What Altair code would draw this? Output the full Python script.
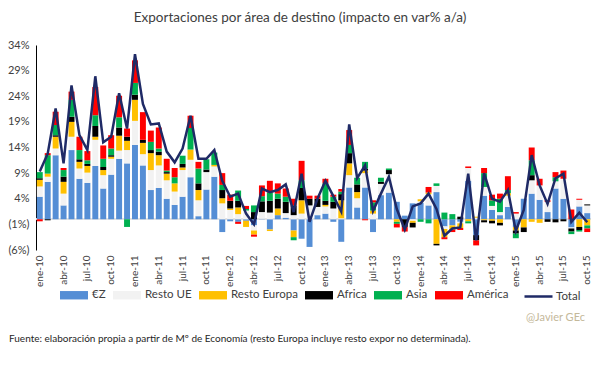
import altair as alt
import pandas as pd

months = [f"{m}-{y}" for y in ["10", "11", "12", "13", "14", "15"]
          for m in ["ene", "feb", "mar", "abr", "may", "jun", "jul", "ago", "sep", "oct", "nov", "dic"]][:70]

series = ["€Z", "Resto UE", "Resto Europa", "Africa", "Asia", "América"]
colors = ["#558ED5", "#F2F2F2", "#FFC000", "#000000", "#00B050", "#FF0000"]

ez = [4.4, 7.3, 12.5, 2.7, 13.5, 7.9, 7.1, 10.4, 6.0, 8.7, 11.8, 10.9,
      14.5, 10.5, 5.7, 6.1, 4.0, 2.8, 4.4, 8.2, 0.6, 5.8, 8.3, -2.5,
      -0.4, -0.5, -0.3, -1.2, 0.1, -2.0, 0.8, 0.3, -2.2, -3.8, -5.4, 0.8,
      1.1, -0.5, -4.4, 6.2, 2.3, 6.2, -2.5, 4.7, 5.2, 3.4, 0.7, 3.1,
      3.2, 2.7, 5.3, -1.4, -1.2, -0.5, 7.5, -3.1, 4.6, 1.8, 0.8, 2.4,
      -1.5, 4.0, 5.0, 3.8, 1.4, 6.0, 4.0, -1.6, 2.5, 1.2]
rue = [2.0, 1.0, 1.3, 2.3, 2.6, 2.0, 2.0, 5.1, 2.6, 3.1, 1.6, 2.6,
       4.7, 2.2, 3.9, 4.4, 3.6, 2.6, 5.2, 3.4, 3.1, 3.4, 2.0, 3.1,
       1.8, 1.0, 1.7, -1.0, 1.3, 1.3, 0.0, 0.9, 0.8, 1.1, 2.7, 1.6,
       1.4, 2.1, 0.2, 2.4, 1.8, 2.8, 1.1, 2.2, 3.6, 0.0, 0.0, -0.3,
       0.3, 2.2, 1.2, -0.5, 0.0, -0.3, 2.5, 0.3, 1.7, 0.8, 0.6, 2.2,
       1.1, 0.0, 2.6, 2.8, 2.0, 1.4, 3.9, -0.2, 1.3, 1.5]
reu = [1.3, 0.6, 2.3, 2.3, 2.9, 1.3, 1.3, 0.6, 1.0, 0.4, 2.9, 1.8,
       4.1, 2.2, 3.3, 2.0, 1.3, 1.6, 0.5, 2.0, 2.0, 0.0, 0.3, 1.0,
       0.3, 1.3, -1.2, -0.8, 0.0, -0.3, 1.3, 0.0, -1.3, 2.6, 0.0, 0.0,
       0.3, 0.0, 3.5, 2.3, 1.2, 0.5, 0.6, 0.0, 0.0, -0.5, 0.0, -0.4,
       0.4, 0.3, -4.8, -1.6, -0.8, -0.9, -0.4, 0.2, -0.2, -0.3, -0.7, 0.5,
       -0.7, -1.6, -0.5, -0.7, 0.0, 0.0, 0.0, 0.0, -1.5, -1.2]
afr = [0.3, -0.2, 0.3, 1.0, 1.0, 0.5, 0.4, 2.1, 0.6, 0.3, 1.6, 0.8,
       1.0, 0.6, 0.6, 0.7, 0.3, 0.0, 0.7, 0.0, 1.3, 0.5, 0.0, 1.6,
       1.5, 1.3, 0.0, 1.4, 2.1, 2.3, 1.9, 2.2, 1.9, 2.4, 1.3, 1.6,
       0.8, 1.3, 1.2, 2.0, 1.5, 0.4, 0.0, 0.4, 0.8, 0.0, -1.5, -0.9,
       0.0, 0.0, -0.3, 0.0, 0.0, 0.5, 0.0, -1.0, -0.4, -0.5, -0.5, 0.0,
       -0.6, -0.9, 1.0, 0.0, -0.5, -0.6, -0.4, -0.6, -0.6, 0.2]
asi = [1.2, 3.6, 2.0, 1.3, 3.3, 1.8, 0.7, 2.1, 1.6, 1.3, 2.0, -1.5,
       2.3, 0.0, 1.6, 0.6, 0.3, 1.2, 1.6, 4.2, 2.9, 2.0, 2.4, 1.0,
       0.0, 2.0, 0.3, 1.3, 1.0, 1.6, 1.0, 1.0, -0.6, 1.5, 0.0, 0.0,
       3.4, 1.0, 0.5, 1.6, 1.3, 1.3, 1.6, 0.8, 0.3, -0.4, 0.0, 0.0,
       -0.5, -0.8, 0.5, 1.3, 1.0, 0.0, -0.4, 0.0, 2.7, 1.1, 2.6, 0.6,
       -0.9, 0.0, 2.9, 0.0, 0.0, 0.8, 0.0, -0.5, -0.3, -0.6]
ame = [-0.4, 0.4, 2.6, 0.4, 1.6, 2.6, 1.8, 5.5, 2.6, 2.6, 4.2, 1.6,
       4.4, 5.4, 2.2, 4.1, 2.3, 1.8, 0.0, 2.4, 1.3, 0.0, 0.0, 2.3,
       1.2, -0.4, 0.6, -0.4, 2.1, 2.3, 2.0, 1.6, 1.3, 3.8, 0.6, 0.6,
       0.9, 0.4, 0.5, 2.9, 0.0, -0.2, 0.4, 0.0, 0.0, -0.7, -0.9, 0.0,
       0.0, 1.1, 0.0, -0.4, -0.5, -0.4, 0.3, -1.0, 1.0, 1.1, 1.0, 2.7,
       0.3, 0.0, 2.5, 1.3, 0.3, 1.0, 1.6, 1.9, 0.2, -0.7]
total = [9.3, 12.8, 21.6, 10.9, 26.1, 16.4, 13.5, 27.9, 15.0, 16.1, 24.6, 17.7,
         32.2, 22.5, 18.5, 18.7, 13.2, 11.1, 13.8, 20.2, 11.8, 11.8, 13.5, 7.5,
         4.4, 5.0, 1.1, -1.0, 6.0, 5.3, 5.7, 6.8, 1.4, 8.9, -0.5, 4.0,
         7.5, 4.5, 1.5, 18.5, 8.0, 10.5, 1.6, 5.0, 8.3, 2.0, -2.0, 2.5,
         3.1, 5.0, 2.0, -3.2, -1.8, -1.6, 8.9, -4.1, 9.0, 4.0, 3.4, 5.7,
         -2.3, 1.8, 12.5, 6.6, 3.0, 8.0, 8.9, -0.5, 1.3, -0.6]
y_ticks = [-6, -1, 4, 9, 14, 19, 24, 29, 34]

title_text = "Exportaciones por área de destino (impacto en var% a/a)"
source_text = ("Fuente: elaboración propia a partir de Mº de Economía "
               "(resto Europa incluye resto expor no determinada).")
credit_text = "@Javier GEc"

FONT = "Lato"
TXT = "#404040"

rows = []
for i, m in enumerate(months):
    for k, vals in enumerate([ez, rue, reu, afr, asi, ame]):
        rows.append({"mes": m, "serie": series[k], "orden": k, "valor": vals[i]})
bars_df = pd.DataFrame(rows)
tot_df = pd.DataFrame({"mes": months, "serie": ["Total"] * len(months), "valor": total})

x_axis = alt.Axis(values=months[::3], labelAngle=270, domain=False, ticks=False,
                  labelPadding=5, labelFont=FONT, labelFontSize=10,
                  labelColor=TXT, title=None)
x_scale = alt.Scale(paddingInner=0.25, paddingOuter=0.1)
y_scale = alt.Scale(domain=[-6, 34], nice=False, zero=False)
y_axis = alt.Axis(values=y_ticks,
                  labelExpr="datum.value < 0 ? '(' + abs(datum.value) + '%)' : datum.value + '%'",
                  labelOverlap=False, labelBound=False,
                  grid=False, ticks=False, domainColor="#000000", domainWidth=1,
                  labelPadding=7, labelFont=FONT, labelFontSize=11,
                  labelColor=TXT, title=None)

rect_path = "M-1,-0.3L1,-0.3L1,0.3L-1,0.3Z"

bars = alt.Chart(bars_df).mark_bar().encode(
    x=alt.X("mes:N", sort=months, scale=x_scale, axis=x_axis),
    y=alt.Y("valor:Q", stack="zero", scale=y_scale, axis=y_axis),
    color=alt.Color("serie:N", scale=alt.Scale(domain=series, range=colors),
                    legend=alt.Legend(orient="none", legendX=24, legendY=236,
                                      direction="horizontal", title=None,
                                      symbolType=rect_path, symbolSize=784,
                                      symbolStrokeWidth=0, labelFont=FONT,
                                      labelFontSize=11.5, labelColor=TXT,
                                      labelOffset=4, columnPadding=7)),
    order=alt.Order("orden:Q"),
)

zero_rule = alt.Chart(tot_df).mark_rule(color="#E3E3E3", strokeWidth=1).encode(
    y=alt.Y(datum=0, scale=y_scale, axis=y_axis)
)

line = alt.Chart(tot_df).mark_line(strokeWidth=2.5).encode(
    x=alt.X("mes:N", sort=months, scale=x_scale, axis=x_axis),
    y=alt.Y("valor:Q", scale=y_scale, axis=y_axis),
    stroke=alt.Stroke("serie:N", scale=alt.Scale(domain=["Total"], range=["#1F2A66"]),
                      legend=alt.Legend(orient="none", legendX=487, legendY=236,
                                        title=None, symbolType="stroke", symbolSize=784,
                                        symbolStrokeWidth=2.5, labelFont=FONT,
                                        labelFontSize=11.5, labelColor=TXT, labelOffset=2)),
)

title = alt.Chart(pd.DataFrame({"t": [title_text]})).mark_text(
    font=FONT, fontSize=13.5, color=TXT, align="center", baseline="middle"
).encode(text="t:N", x=alt.value(264), y=alt.value(-27))

credit = alt.Chart(pd.DataFrame({"t": [credit_text]})).mark_text(
    font=FONT, fontSize=11, color="#C4B89A", align="right", baseline="middle"
).encode(text="t:N", x=alt.value(549), y=alt.value(273))

source = alt.Chart(pd.DataFrame({"t": [source_text]})).mark_text(
    font=FONT, fontSize=10, color="#262626", align="left", baseline="middle"
).encode(text="t:N", x=alt.value(-27), y=alt.value(294))

chart = alt.layer(zero_rule, bars, line, title, credit, source).resolve_scale(
    color="independent", stroke="independent"
).properties(
    width=555, height=205,
    autosize=alt.AutoSizeParams(type="none"),
    padding={"left": 28, "top": 37, "right": 0, "bottom": 118},
    background="white",
).configure_view(stroke=None).configure_axis(labelOverlap=False)

chart.save("out.html", embed_options={"renderer": "svg", "actions": False})
